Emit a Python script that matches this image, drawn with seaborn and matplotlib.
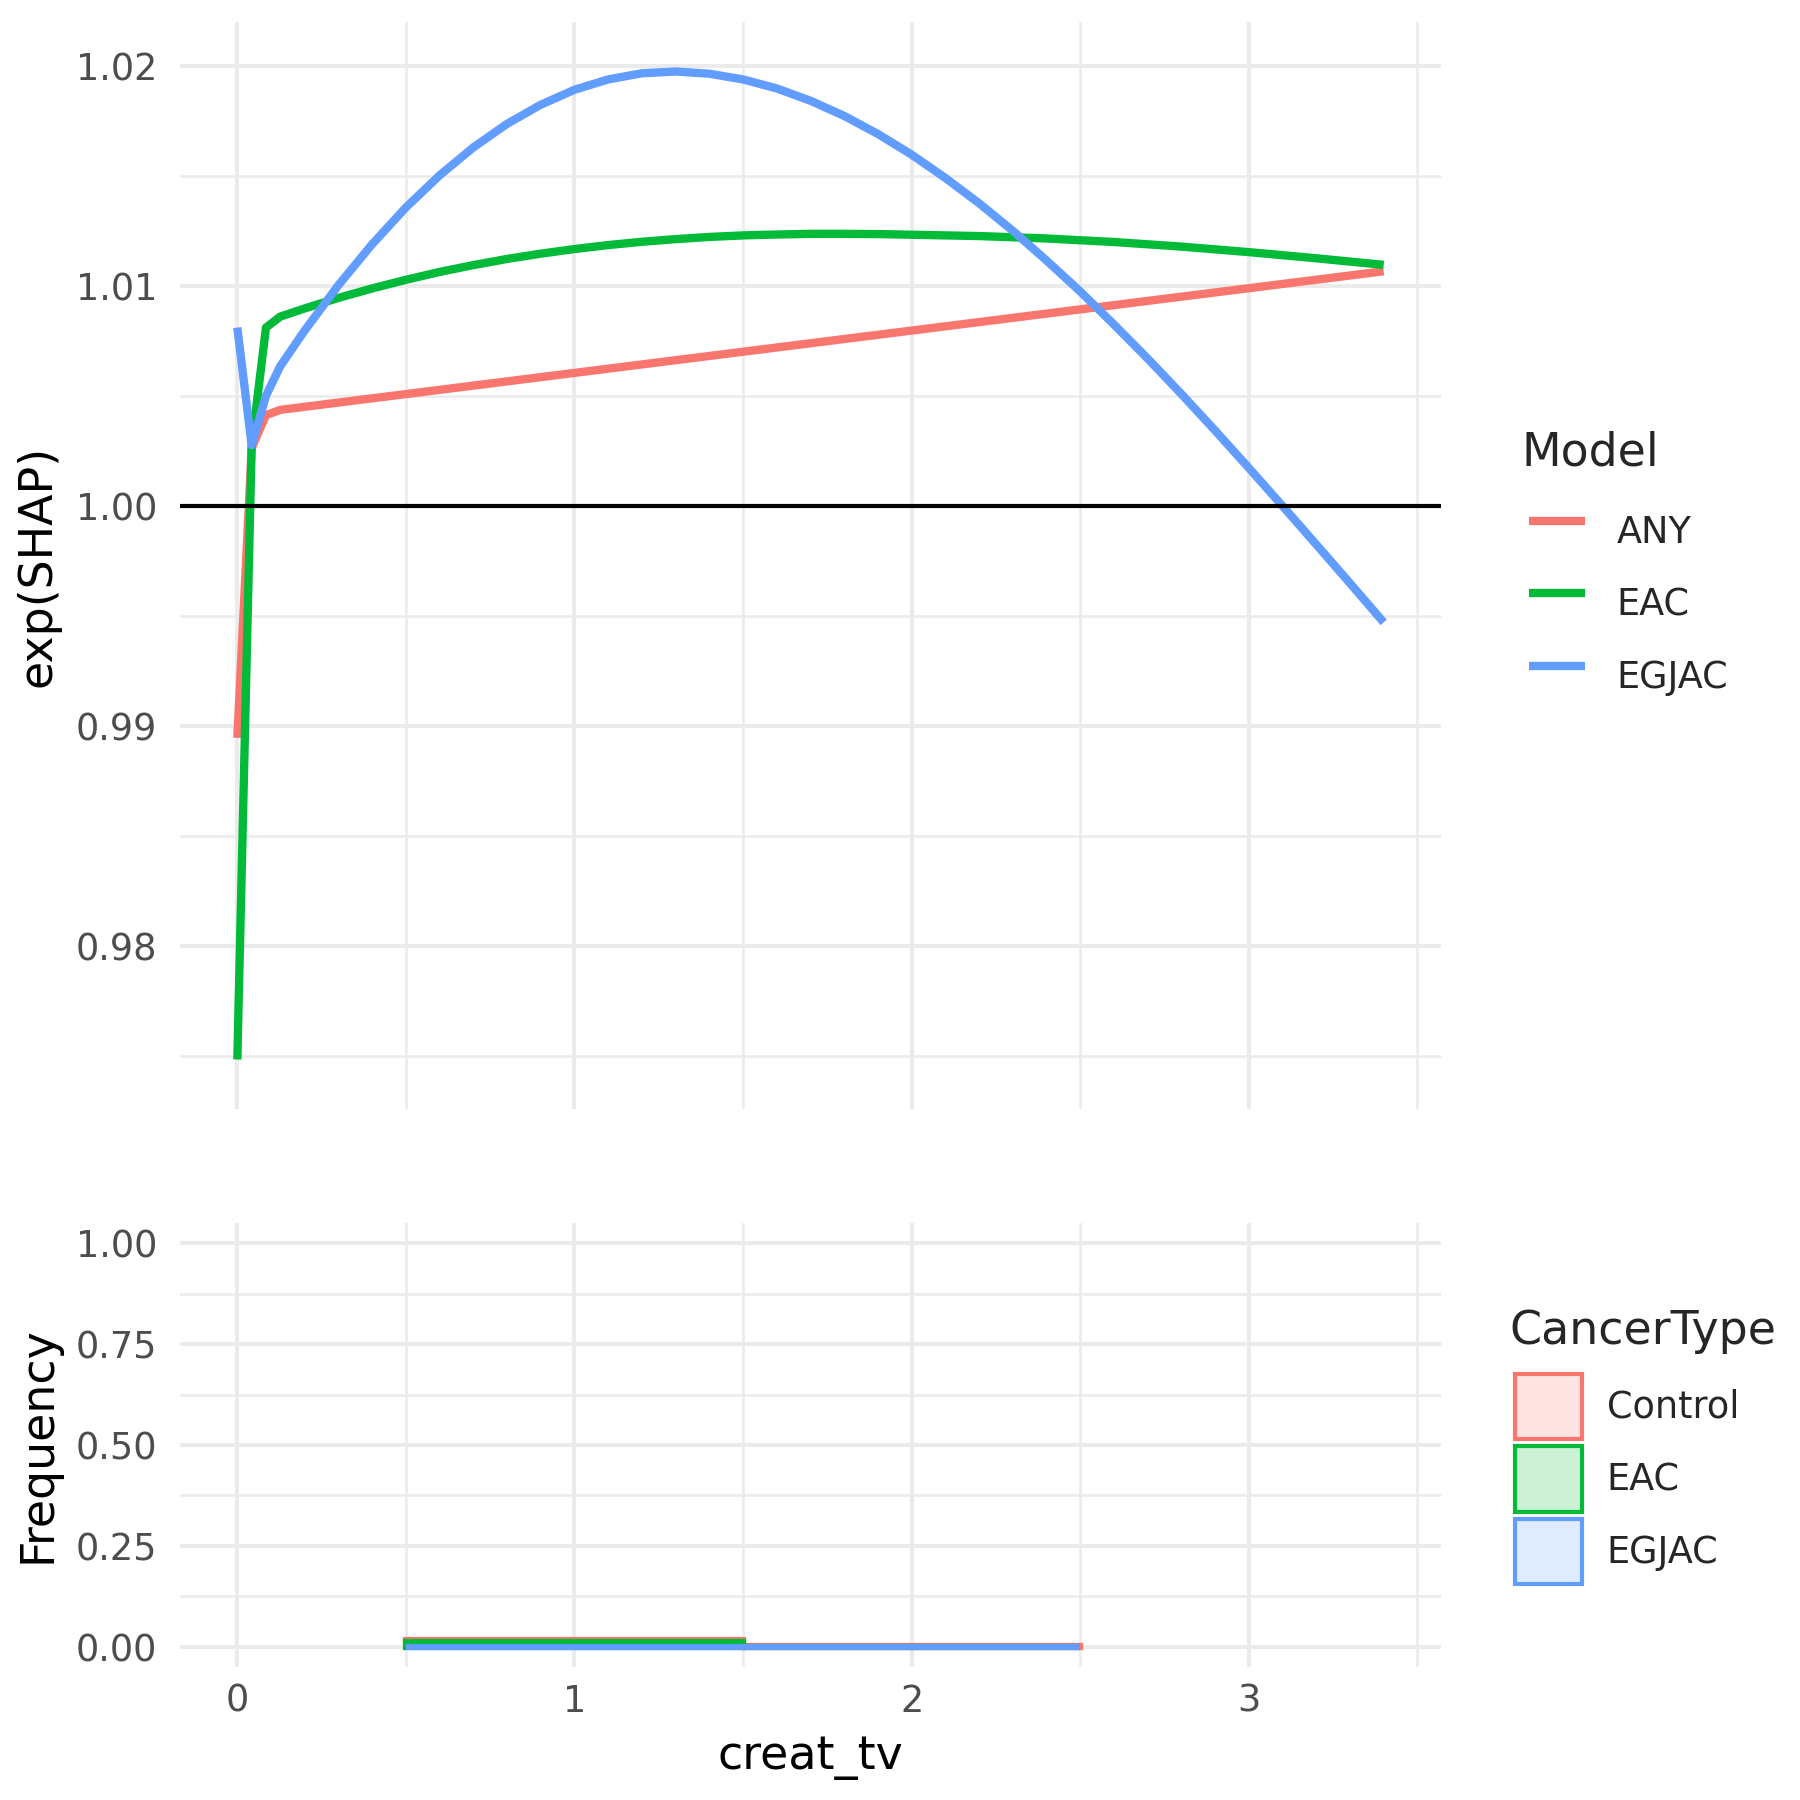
import matplotlib
matplotlib.use("Agg")
import matplotlib.pyplot as plt
import numpy as np
import pandas as pd
import seaborn as sns
from matplotlib.colors import to_rgba
from matplotlib.lines import Line2D
from matplotlib.patches import Patch
from matplotlib.ticker import FormatStrFormatter

# ---- values ----
models = ["ANY", "EAC", "EGJAC"]

any_x = [0.0, 0.0425, 0.085, 0.1275, 3.4]
any_y = [0.98945, 1.00262, 1.00412, 1.00436, 1.01066]

eac_x = [0.0, 0.0425, 0.085, 0.1275, 0.2, 0.3, 0.4, 0.5, 0.6, 0.7, 0.8, 0.9,
         1.0, 1.1, 1.2, 1.3, 1.4, 1.5, 1.6, 1.7, 1.8, 1.9, 2.0, 2.2, 2.4,
         2.6, 2.8, 3.0, 3.2, 3.4]
eac_y = [0.97483, 1.00275, 1.00810, 1.00860, 1.00897, 1.00945, 1.00988,
         1.01027, 1.01063, 1.01094, 1.01122, 1.01146, 1.01167, 1.01185,
         1.01200, 1.01212, 1.01222, 1.01229, 1.01233, 1.01236, 1.01236,
         1.01235, 1.01232, 1.01226, 1.01215, 1.01199, 1.01178, 1.01153,
         1.01125, 1.01095]

egjac_x = [0.0, 0.0425, 0.085, 0.1275, 0.2, 0.3, 0.4, 0.5, 0.6, 0.7, 0.8,
           0.9, 1.0, 1.1, 1.2, 1.3, 1.4, 1.5, 1.6, 1.7, 1.8, 1.9, 2.0, 2.1,
           2.2, 2.3, 2.4, 2.5, 2.6, 2.7, 2.8, 2.9, 3.0, 3.1, 3.2, 3.3, 3.4]
egjac_y = [1.00810, 1.00275, 1.00500, 1.00635, 1.00797, 1.01003, 1.01189,
           1.01356, 1.01502, 1.01629, 1.01736, 1.01823, 1.01891, 1.01938,
           1.01966, 1.01974, 1.01964, 1.01938, 1.01897, 1.01841, 1.01772,
           1.01690, 1.01596, 1.01490, 1.01375, 1.01250, 1.01115, 1.00974,
           1.00824, 1.00669, 1.00508, 1.00342, 1.00172, 0.99999, 0.99824,
           0.99648, 0.99470]

cancer_types = ["Control", "EAC", "EGJAC"]
bin_centers = [1.0, 2.0]
freq_control = [0.004, 0.002]
freq_eac = [0.012, 0.0]
freq_egjac = [0.0005, 0.0003]

colors = ["#F8766D", "#00BA38", "#619CFF"]

shap_yticks = [0.98, 0.99, 1.00, 1.01, 1.02]
shap_yminor = [0.975, 0.985, 0.995, 1.005, 1.015]
freq_yticks = [0.0, 0.25, 0.5, 0.75, 1.0]
freq_yminor = [0.125, 0.375, 0.625, 0.875]
x_ticks = [0, 1, 2, 3]
x_minor = [0.5, 1.5, 2.5, 3.5]

# ---- style ----
sns.set_theme(style="white")
plt.rcParams.update({
    "font.family": ["DejaVu Sans"],
    "figure.facecolor": "white",
    "axes.facecolor": "white",
})

shap_df = pd.concat(
    [pd.DataFrame({"creat_tv": xs, "exp_shap": ys, "Model": m})
     for m, xs, ys in zip(models, [any_x, eac_x, egjac_x], [any_y, eac_y, egjac_y])],
    ignore_index=True,
)
freq_df = pd.concat(
    [pd.DataFrame({"creat_tv": bin_centers, "Frequency": f, "CancerType": c})
     for c, f in zip(cancer_types, [freq_control, freq_eac, freq_egjac])],
    ignore_index=True,
)

fig = plt.figure(figsize=(6, 6), dpi=300)
ax_top = fig.add_axes([0.1, 1 - 1109 / 1800, (1441 - 180) / 1800, (1109 - 22) / 1800])
ax_bot = fig.add_axes([0.1, 1 - 1667 / 1800, (1441 - 180) / 1800, (1667 - 1223) / 1800])

LW = 2.0
BAR_LW = 1.5

# top panel: exp(SHAP) curves
sns.lineplot(
    data=shap_df, x="creat_tv", y="exp_shap", hue="Model", hue_order=models,
    palette=colors, linewidth=LW, estimator=None, sort=True, legend=False,
    ax=ax_top, solid_capstyle="butt",
)
ax_top.axhline(1.0, color="black", linewidth=1.0, zorder=3)

# bottom panel: stacked frequency bars
sns.histplot(
    data=freq_df, x="creat_tv", weights="Frequency", hue="CancerType",
    hue_order=cancer_types, palette=colors, multiple="stack",
    bins=[0.5, 1.5, 2.5], alpha=0.2, linewidth=BAR_LW, legend=False, ax=ax_bot,
)
rgb_list = [np.array(to_rgba(c)[:3]) for c in colors]
for patch in ax_bot.patches:
    fc = np.array(patch.get_facecolor()[:3])
    i = int(np.argmin([np.abs(fc - c).sum() for c in rgb_list]))
    patch.set_edgecolor(colors[i])
    patch.set_zorder(2 + 0.1 * i)

# axes styling
for ax in (ax_top, ax_bot):
    ax.set_xlim(-0.17, 3.57)
    ax.set_xticks(x_ticks)
    ax.set_xticks(x_minor, minor=True)
    ax.grid(which="major", color="#EBEBEB", linewidth=0.95)
    ax.grid(which="minor", color="#EBEBEB", linewidth=0.6)
    ax.set_axisbelow(True)
    for s in ax.spines.values():
        s.set_visible(False)
    ax.tick_params(which="both", length=0, labelsize=8.8, labelcolor="#4D4D4D")
    ax.tick_params(axis="y", pad=5.4)
    ax.tick_params(axis="x", pad=3.8)

ax_top.set_ylim(0.97258, 1.02199)
ax_top.set_yticks(shap_yticks)
ax_top.set_yticks(shap_yminor, minor=True)
ax_top.yaxis.set_major_formatter(FormatStrFormatter("%.2f"))
ax_top.tick_params(axis="x", labelbottom=False)
ax_top.set_xlabel("")
ax_top.set_ylabel("exp(SHAP)", fontsize=11, color="black")
ax_top.yaxis.set_label_coords(-0.0944, 0.5)

ax_bot.set_ylim(-0.05, 1.05)
ax_bot.set_yticks(freq_yticks)
ax_bot.set_yticks(freq_yminor, minor=True)
ax_bot.yaxis.set_major_formatter(FormatStrFormatter("%.2f"))
ax_bot.set_ylabel("Frequency", fontsize=11, color="black")
ax_bot.yaxis.set_label_coords(-0.0944, 0.5)
ax_bot.set_xlabel("creat_tv", fontsize=11, color="black")
ax_bot.xaxis.set_label_coords(0.5, -0.153)

# legends
legend_kw = dict(
    loc="center left", bbox_transform=fig.transFigure, frameon=False,
    fontsize=8.8, title_fontsize=11, alignment="left", handleheight=2.37,
    labelspacing=0.19, borderpad=0, borderaxespad=0,
)
model_handles = [Line2D([], [], color=c, linewidth=LW, solid_capstyle="butt") for c in colors]
leg1 = ax_top.legend(
    model_handles, models, title="Model", bbox_to_anchor=(0.845, 0.6813),
    handlelength=1.53, handletextpad=0.85, **legend_kw,
)
leg1._legend_box.sep = 3.77
leg1._legend_handle_box.pad = 1.92

ct_handles = [Patch(facecolor=to_rgba(c, 0.2), edgecolor=c, linewidth=1.0) for c in colors]
leg2 = ax_bot.legend(
    ct_handles, cancer_types, title="CancerType", bbox_to_anchor=(0.8384, 0.1949),
    handlelength=1.83, handletextpad=0.68, **legend_kw,
)
leg2._legend_box.sep = 3.5
leg2._legend_handle_box.pad = 1.37

fig.savefig("out.png", dpi=300)
